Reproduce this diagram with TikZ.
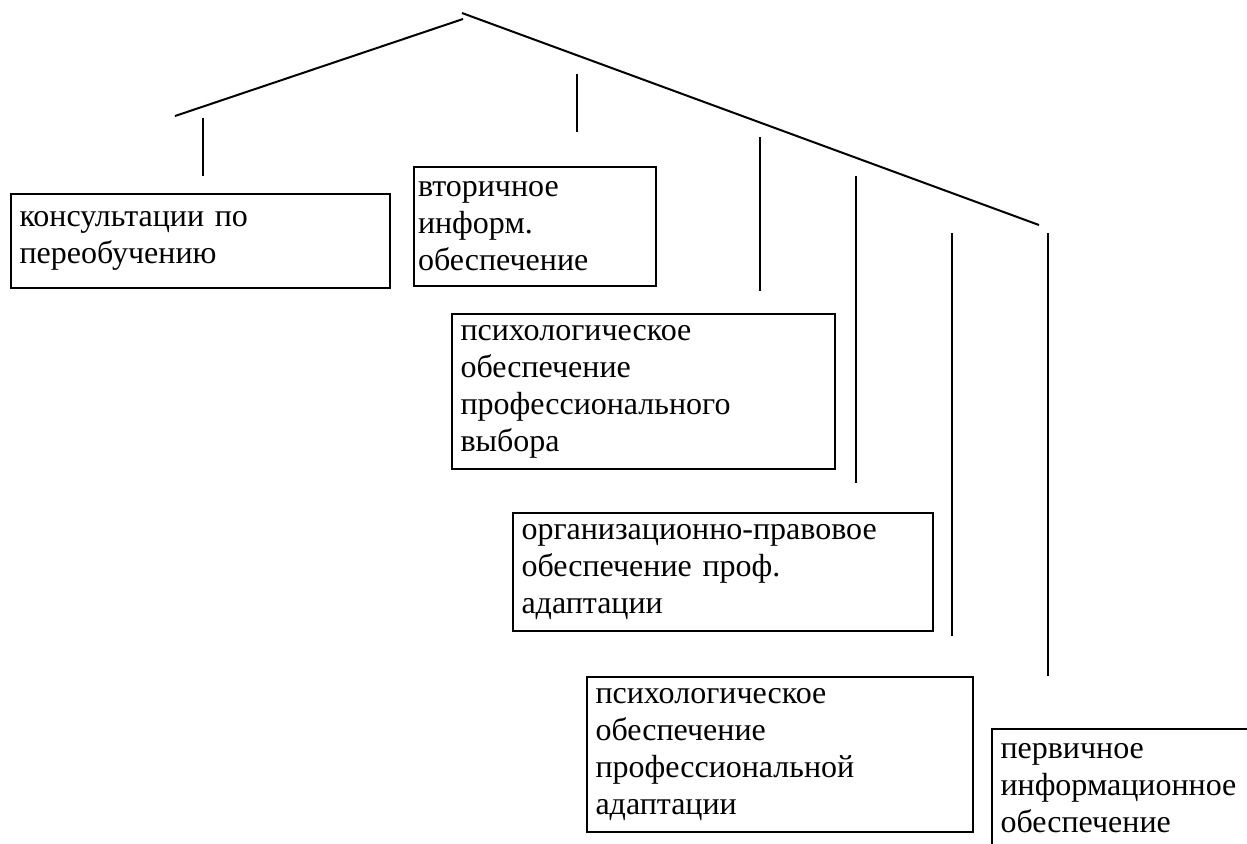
\documentclass[tikz,border=0pt]{standalone}
\usepackage{fontspec}
\setmainfont{Liberation Serif}
\usetikzlibrary{positioning}

\tikzset{
    box/.style={draw, line width=0.8pt, anchor=north west, align=left,
        inner xsep=3.4pt, inner ysep=2pt,
        font=\fontsize{12.8}{14.8}\selectfont},
    branch/.style={line width=0.8pt}
}

\begin{document}
\begin{tikzpicture}[x=0.4pt, y=-0.4pt]
    \useasboundingbox (0,0) rectangle (1247,843);
    \clip (0,0) rectangle (1247,843);

    % roof
    \coordinate (roofL) at (175,116);
    \coordinate (roofLtop) at (463,19);
    \coordinate (roofRtop) at (462,13);
    \coordinate (roofR) at (1039,225);
    \draw[branch] (roofL) -- (roofLtop);
    \draw[branch] (roofRtop) -- (roofR);

    % stubs
    \foreach \n/\x/\ya/\yb in {a/203/118/176, b/577/74/132, c/760/137/291,
                               d/856/176/483, e/952/233/636, f/1048/233/676} {
        \coordinate (\n top) at (\x,\ya);
        \coordinate (\n bot) at (\x,\yb);
        \draw[branch] (\n top) -- (\n bot);
    }

    % boxes
    \node[box, text width=144.8pt, minimum height=37.6pt] (retrain) at (10,193)
        {консультации по\\переобучению};
    \node[box, text width=93.6pt, minimum height=47.6pt, inner xsep=1.6pt] (secinfo) at (413,166)
        {вторичное\\информ.\\обеспечение};
    \node[box, text width=146.4pt, minimum height=62pt] (psychchoice) at (451,313)
        {психологическое\\обеспечение\\профессионального\\выбора};
    \node[box, text width=161.2pt, minimum height=47.2pt] (legal) at (512,512)
        {организационно-правовое\\обеспечение проф.\\адаптации};
    \node[box, text width=147.6pt, minimum height=62pt] (psychadapt) at (586,676)
        {психологическое\\обеспечение\\профессиональной\\адаптации};
    \node[box, text width=112.8pt, minimum height=47.6pt] (priminfo) at (991,728)
        {первичное\\информационное\\обеспечение};
\end{tikzpicture}
\end{document}
